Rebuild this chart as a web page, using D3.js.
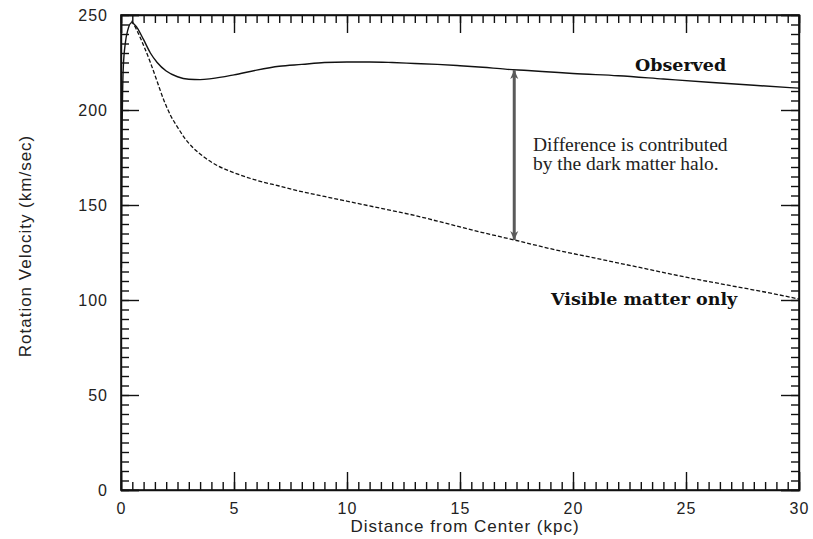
<!DOCTYPE html>
<html>
<head>
<meta charset="utf-8">
<script src="https://cdn.jsdelivr.net/npm/d3@7"></script>
<style>
    body { margin: 0; background: #fff; }
    svg { display: block; }
    .tick text { font-family: "Liberation Sans", Arial, sans-serif; font-size: 16px; fill: #222; letter-spacing: 1px; }
    .axis path, .axis line { stroke: #111; stroke-width: 1.4; }
</style>
</head>
<body>
<div id="chart"></div>
<script>
    // galaxy rotation curve
    let xTicks = [0, 5, 10, 15, 20, 25, 30]
    let yTicks = [0, 50, 100, 150, 200, 250]

    let obsR = [0.02, 0.05, 0.1, 0.2, 0.3, 0.47, 0.7, 1.0, 1.3, 1.6, 2, 2.5, 3, 3.5, 4, 5, 6, 7, 8, 9, 10, 11, 12, 13, 14, 15, 16, 17, 18, 19, 20, 22, 24, 26, 28, 30]
    let obsV = [117, 190, 222, 236, 242, 246, 243.5, 237, 230, 225, 220.5, 217.5, 216.2, 216, 216.5, 218.5, 221, 223, 224, 225, 225.3, 225.3, 225, 224.5, 224, 223.3, 222.5, 221.5, 220.8, 220, 219.2, 218, 216.3, 214.6, 213, 211.5]

    let visR = [0.47, 0.7, 1.0, 1.3, 1.6, 1.9, 2.2, 2.5, 2.8, 3.2, 3.7, 4.3, 5, 6, 7, 8, 9, 10, 11, 12, 13, 14, 15, 16, 17.4, 19, 21, 23, 25, 27, 29, 30]
    let visV = [247, 242, 234, 225, 215, 205, 197, 191, 185.5, 180, 175, 170.5, 167, 163, 160, 157, 154.5, 152, 149.5, 147, 144.5, 141.5, 138.5, 135.5, 131.6, 127, 122, 117, 112, 107.5, 103, 100.5]

    // the double arrow between the two curves
    let arrowR = 17.4
    let arrowFrom = 221
    let arrowTo = 131.6

    let width = 813
    let height = 539
    let margin = { top: 15, right: 14, bottom: 49, left: 121 }

    let svg = d3.select("#chart").append("svg")
        .attr("width", width)
        .attr("height", height)

    let x = d3.scaleLinear().domain([0, 30]).range([margin.left, width - margin.right])
    let y = d3.scaleLinear().domain([0, 250]).range([height - margin.bottom, margin.top])

    let minorX = d3.range(0, 30.01, 0.5)
    let minorY = d3.range(0, 250.01, 5)

    function drawAxis(axisFn, pos, major, minor, labels) {
        let g = svg.append("g").attr("class", "axis").attr("transform", pos)
        g.call(axisFn.tickValues(minor).tickSize(-8).tickFormat(""))
        g.select(".domain").remove()
        let g2 = svg.append("g").attr("class", "axis").attr("transform", pos)
        g2.call(axisFn.tickValues(major).tickSize(-18).tickPadding(13)
            .tickFormat(labels ? d3.format("d") : ""))
        return g2
    }

    drawAxis(d3.axisBottom(x), `translate(0,${y(0)})`, xTicks, minorX, true)
    drawAxis(d3.axisTop(x), `translate(0,${y(250)})`, xTicks, minorX, false)
    drawAxis(d3.axisLeft(y), `translate(${x(0)},0)`, yTicks, minorY, true)
    drawAxis(d3.axisRight(y), `translate(${x(30)},0)`, yTicks, minorY, false)

    // frame
    svg.append("rect")
        .attr("x", x(0)).attr("y", y(250))
        .attr("width", x(30) - x(0)).attr("height", y(0) - y(250))
        .attr("fill", "none").attr("stroke", "#111").attr("stroke-width", 1.6)

    let line = d3.line()
        .x(d => x(d[0]))
        .y(d => y(d[1]))
        .curve(d3.curveMonotoneX)

    svg.append("path")
        .datum(d3.zip(visR, visV))
        .attr("d", line)
        .attr("fill", "none")
        .attr("stroke", "#111")
        .attr("stroke-width", 1.3)
        .attr("stroke-dasharray", "4,2")

    svg.append("path")
        .datum(d3.zip(obsR, obsV))
        .attr("d", line)
        .attr("fill", "none")
        .attr("stroke", "#111")
        .attr("stroke-width", 1.4)

    // arrow heads
    let defs = svg.append("defs")
    defs.append("marker")
        .attr("id", "head")
        .attr("viewBox", "0 -5 10 10")
        .attr("refX", 10).attr("refY", 0)
        .attr("markerWidth", 11).attr("markerHeight", 9)
        .attr("markerUnits", "userSpaceOnUse")
        .attr("orient", "auto-start-reverse")
        .append("path")
        .attr("d", "M0,-4.5L10,0L0,4.5L3,0Z")
        .attr("fill", "#5a5a5a")

    svg.append("line")
        .attr("x1", x(arrowR)).attr("x2", x(arrowR))
        .attr("y1", y(arrowFrom)).attr("y2", y(arrowTo))
        .attr("stroke", "#5a5a5a")
        .attr("stroke-width", 3)
        .attr("marker-start", "url(#head)")
        .attr("marker-end", "url(#head)")

    // annotations
    svg.append("text")
        .attr("x", x(22.74)).attr("y", y(220.5))
        .style("font-family", "'DejaVu Serif', serif")
        .style("font-weight", "bold")
        .style("font-size", "17.5px")
        .attr("fill", "#111")
        .text("Observed")

    svg.append("text")
        .attr("x", x(19.03)).attr("y", y(97.4))
        .style("font-family", "'DejaVu Serif', serif")
        .style("font-weight", "bold")
        .style("font-size", "17.5px")
        .attr("fill", "#111")
        .text("Visible matter only")

    let note = svg.append("text")
        .style("font-family", "'Liberation Serif', 'Times New Roman', serif")
        .style("font-size", "19.5px")
        .attr("fill", "#222")
    note.append("tspan").attr("x", x(18.23)).attr("y", y(178.4)).text("Difference is contributed")
    note.append("tspan").attr("x", x(18.23)).attr("y", y(168.4)).text("by the dark matter halo.")

    // axis titles
    svg.append("text")
        .attr("x", 465).attr("y", 532)
        .attr("text-anchor", "middle")
        .style("font-family", "'Liberation Sans', Arial, sans-serif")
        .style("font-size", "17px")
        .style("letter-spacing", "1px")
        .attr("fill", "#222")
        .text("Distance from Center (kpc)")

    svg.append("text")
        .attr("transform", "translate(31,246) rotate(-90)")
        .attr("text-anchor", "middle")
        .style("font-family", "'Liberation Sans', Arial, sans-serif")
        .style("font-size", "17px")
        .style("letter-spacing", "1px")
        .attr("fill", "#222")
        .text("Rotation Velocity (km/sec)")
</script>
</body>
</html>
